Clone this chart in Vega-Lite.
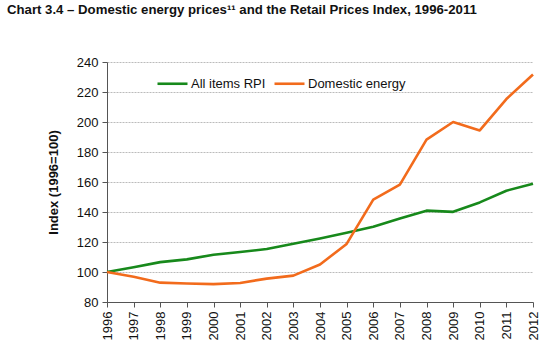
{
  "$schema": "https://vega.github.io/schema/vega-lite/v6.json",
  "autosize": {"type": "none"},
  "width": 426,
  "height": 240,
  "padding": {"left": 107, "top": 62, "right": 17, "bottom": 52},
  "background": "white",
  "title": {
    "text": "Chart 3.4 – Domestic energy prices¹¹ and the Retail Prices Index, 1996-2011",
    "anchor": "start",
    "frame": "group",
    "dx": -100,
    "offset": 39,
    "font": "Liberation Sans",
    "fontSize": 13.2,
    "fontWeight": "bold",
    "color": "#111111"
  },
  "config": {
    "view": {"stroke": null},
    "font": "Liberation Sans"
  },
  "data": {
    "values": [
      {"year": 1996, "series": "All items RPI", "value": 100},
      {"year": 1997, "series": "All items RPI", "value": 103.2},
      {"year": 1998, "series": "All items RPI", "value": 106.6},
      {"year": 1999, "series": "All items RPI", "value": 108.4},
      {"year": 2000, "series": "All items RPI", "value": 111.5},
      {"year": 2001, "series": "All items RPI", "value": 113.3},
      {"year": 2002, "series": "All items RPI", "value": 115.3},
      {"year": 2003, "series": "All items RPI", "value": 118.8},
      {"year": 2004, "series": "All items RPI", "value": 122.4},
      {"year": 2005, "series": "All items RPI", "value": 126.2},
      {"year": 2006, "series": "All items RPI", "value": 130.2},
      {"year": 2007, "series": "All items RPI", "value": 135.7},
      {"year": 2008, "series": "All items RPI", "value": 140.9},
      {"year": 2009, "series": "All items RPI", "value": 140.1},
      {"year": 2010, "series": "All items RPI", "value": 146.4},
      {"year": 2011, "series": "All items RPI", "value": 154.2},
      {"year": 2012, "series": "All items RPI", "value": 158.9},
      {"year": 1996, "series": "Domestic energy", "value": 100},
      {"year": 1997, "series": "Domestic energy", "value": 96.8},
      {"year": 1998, "series": "Domestic energy", "value": 92.9},
      {"year": 1999, "series": "Domestic energy", "value": 92.3},
      {"year": 2000, "series": "Domestic energy", "value": 91.9},
      {"year": 2001, "series": "Domestic energy", "value": 92.7},
      {"year": 2002, "series": "Domestic energy", "value": 95.6},
      {"year": 2003, "series": "Domestic energy", "value": 97.6},
      {"year": 2004, "series": "Domestic energy", "value": 105},
      {"year": 2005, "series": "Domestic energy", "value": 118.7},
      {"year": 2006, "series": "Domestic energy", "value": 148.3},
      {"year": 2007, "series": "Domestic energy", "value": 158.2},
      {"year": 2008, "series": "Domestic energy", "value": 188.3},
      {"year": 2009, "series": "Domestic energy", "value": 200},
      {"year": 2010, "series": "Domestic energy", "value": 194.4},
      {"year": 2011, "series": "Domestic energy", "value": 215.3},
      {"year": 2012, "series": "Domestic energy", "value": 231.7}
    ]
  },
  "mark": {"type": "line", "strokeWidth": 2.6, "strokeJoin": "round"},
  "encoding": {
    "x": {
      "field": "year",
      "type": "quantitative",
      "scale": {"domain": [1996, 2012], "nice": false, "zero": false},
      "axis": {
        "values": [1996, 1997, 1998, 1999, 2000, 2001, 2002, 2003, 2004, 2005, 2006, 2007, 2008, 2009, 2010, 2011, 2012],
        "format": "d",
        "title": null,
        "grid": false,
        "labelAngle": -90,
        "labelAlign": "right",
        "labelBaseline": "middle",
        "labelFontSize": 13,
        "labelColor": "#111111",
        "labelPadding": 4,
        "tickSize": 5,
        "tickColor": "#555555",
        "domainColor": "#555555",
        "labelOverlap": false,
        "labelFlush": false
      }
    },
    "y": {
      "field": "value",
      "type": "quantitative",
      "scale": {"domain": [80, 240], "nice": false, "zero": false},
      "axis": {
        "values": [80, 100, 120, 140, 160, 180, 200, 220, 240],
        "title": "Index (1996=100)",
        "titleFontSize": 13,
        "titleFontWeight": "bold",
        "titleColor": "#111111",
        "titleX": -54,
        "titleY": 120,
        "titleAngle": -90,
        "titleAlign": "center",
        "titleBaseline": "middle",
        "labelFontSize": 13,
        "labelColor": "#111111",
        "labelPadding": 4,
        "tickSize": 5,
        "tickColor": "#555555",
        "domainColor": "#555555",
        "gridColor": "#bbbbbb",
        "gridDash": [2, 1],
        "gridWidth": 1,
        "labelFlush": false
      }
    },
    "color": {
      "field": "series",
      "type": "nominal",
      "scale": {"domain": ["All items RPI", "Domestic energy"], "range": ["#17891b", "#f26b1c"]},
      "legend": {
        "title": null,
        "orient": "none",
        "direction": "horizontal",
        "legendX": 49,
        "legendY": 5,
        "symbolType": "stroke",
        "symbolSize": 900,
        "symbolStrokeWidth": 2.6,
        "labelFontSize": 13,
        "labelColor": "#111111",
        "labelOffset": 2,
        "columnPadding": 3
      }
    }
  }
}
